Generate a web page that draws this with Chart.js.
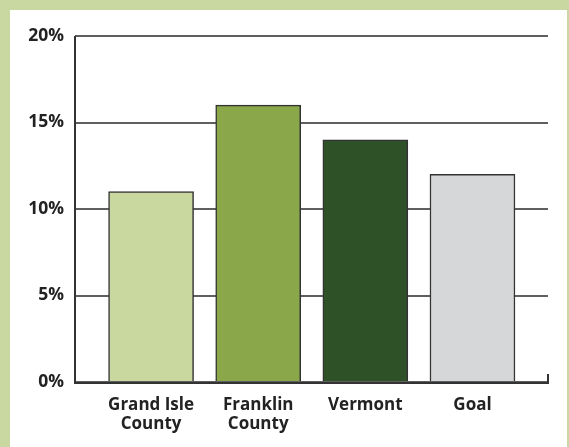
<!DOCTYPE html>
<html>
<head>
<meta charset="utf-8">
<script src="https://cdn.jsdelivr.net/npm/chart.js@4.4.1/dist/chart.umd.min.js"></script>
<style>
  html, body { margin: 0; padding: 0; background: #c8d8a0; }
  #wrap { position: relative; width: 569px; height: 447px; overflow: hidden; }
  #panel { position: absolute; left: 10px; top: 10px; width: 557px; height: 437px; background: #ffffff; }
  canvas { position: absolute; left: 0; top: 0; }
</style>
</head>
<body>
<div id="wrap">
  <div id="panel"></div>
  <canvas id="c" width="569" height="447"></canvas>
</div>
<script>
// Share of adults, by area, against the goal
const categories = [["Grand Isle", "County"], ["Franklin", "County"], ["Vermont"], ["Goal"]];
const values = [11, 16, 14, 12];
const barColors = ["#c9d89f", "#8aa84a", "#2f5127", "#d6d7d9"];
const yTicks = [0, 5, 10, 15, 20];

const FONT = "'Open Sans', 'Liberation Sans', sans-serif";

// Axis lines drawn over the bars, with the small closing tick on the right end
const axisLines = {
  id: 'axisLines',
  afterDatasetsDraw(chart) {
    const { ctx, chartArea: a } = chart;
    const y = chart.scales.y;
    const top = y.getPixelForValue(20);
    const base = y.getPixelForValue(0);
    ctx.save();
    ctx.strokeStyle = '#333333';
    ctx.lineWidth = 2;
    ctx.beginPath();
    ctx.moveTo(a.left, top);
    ctx.lineTo(a.left, base + 1);
    ctx.lineTo(a.right, base + 1);
    ctx.lineTo(a.right, base - 8);
    ctx.stroke();
    ctx.restore();
  }
};

new Chart(document.getElementById('c'), {
  type: 'bar',
  data: {
    datasets: [{
      data: values.map((v, i) => ({ x: i, y: v })),
      backgroundColor: barColors,
      borderColor: '#333333',
      borderWidth: 1.5,
      barThickness: 85
    }]
  },
  options: {
    responsive: false,
    animation: false,
    layout: { padding: { top: 36, right: 21, bottom: 0, left: 0 } },
    plugins: { legend: { display: false }, tooltip: { enabled: false }, title: { display: false } },
    scales: {
      x: {
        type: 'linear',
        offset: false,
        min: -0.71,
        max: 3.705,
        afterBuildTicks: s => { s.ticks = categories.map((c, i) => ({ value: i })); },
        afterFit: s => { s.height = 65; },
        grid: { display: false, drawTicks: false },
        border: { display: false },
        ticks: {
          autoSkip: false,
          maxRotation: 0,
          padding: 14,
          color: '#222222',
          font: { family: FONT, size: 17, weight: 'bold', lineHeight: 1.12 },
          callback: v => categories[v]
        }
      },
      y: {
        min: 0,
        max: 20,
        afterBuildTicks: s => { s.ticks = yTicks.map(v => ({ value: v })); },
        afterFit: s => { s.width = 75; },
        grid: { color: '#5f5f5f', lineWidth: 2, drawTicks: false },
        border: { display: false },
        ticks: {
          padding: 11,
          color: '#222222',
          font: { family: FONT, size: 17.5, weight: 'bold' },
          callback: v => v + '%'
        }
      }
    }
  },
  plugins: [axisLines]
});
</script>
</body>
</html>
